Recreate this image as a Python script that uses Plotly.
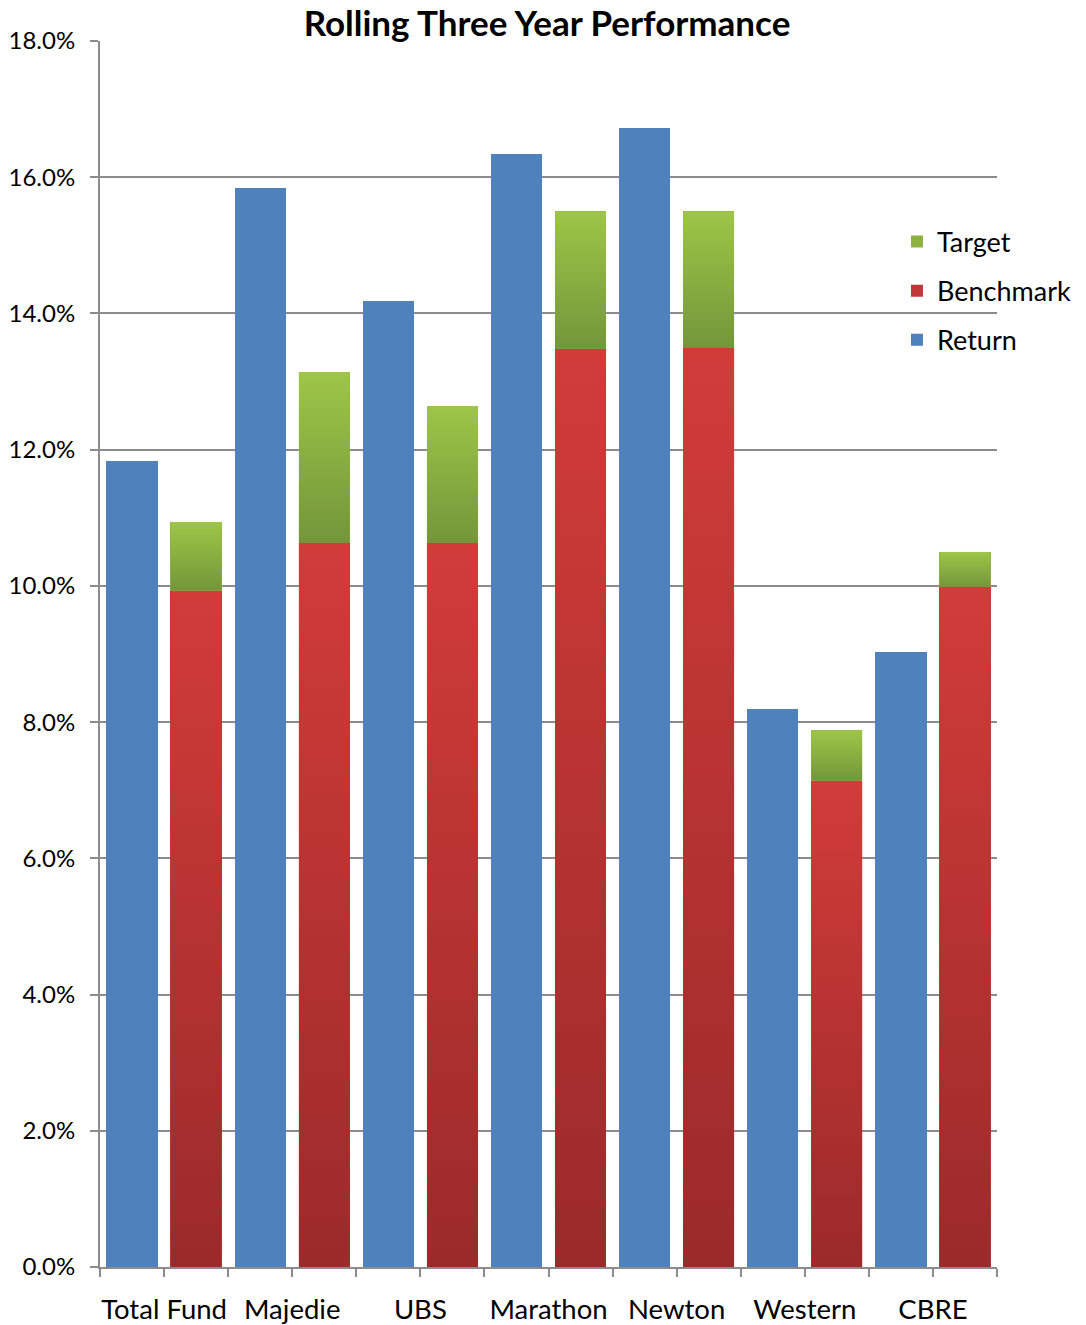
import base64
import plotly.graph_objects as go

# ---- data ----
funds = ["Total Fund", "Majedie", "UBS", "Marathon", "Newton", "Western", "CBRE"]
returns = [0.1183, 0.1584, 0.1418, 0.1634, 0.1672, 0.0819, 0.0903]
benchmark = [0.0993, 0.1063, 0.1063, 0.1348, 0.1349, 0.0714, 0.0998]
target_margin = [0.0101, 0.0251, 0.0201, 0.0202, 0.0201, 0.0074, 0.0052]

y_ticks = [0.0, 0.02, 0.04, 0.06, 0.08, 0.10, 0.12, 0.14, 0.16, 0.18]

# ---- styling ----
FONT = "Lato, 'Open Sans', sans-serif"
BLUE = "#4f81bd"
RED = "#c0393a"
GREEN = "#8db243"
GRID = "#8c8c8c"
BAR_W = 0.8

x_ret = [2 * i for i in range(len(funds))]
x_bm = [2 * i + 1 for i in range(len(funds))]


def grad_uri(top, bottom):
    svg = (
        "<svg xmlns='http://www.w3.org/2000/svg' viewBox='0 0 10 100' "
        "preserveAspectRatio='none' width='10' height='100'>"
        "<defs><linearGradient id='g' x1='0' y1='0' x2='0' y2='1'>"
        f"<stop offset='0' stop-color='{top}'/><stop offset='1' stop-color='{bottom}'/>"
        "</linearGradient></defs><rect x='0' y='0' width='10' height='100' fill='url(#g)'/></svg>"
    )
    return "data:image/svg+xml;base64," + base64.b64encode(svg.encode()).decode()


RED_GRAD = grad_uri("#d13c39", "#9b2a2a")
GREEN_GRAD = grad_uri("#9ec647", "#74963a")

fig = go.Figure()
fig.add_trace(go.Bar(name="Return", x=x_ret, y=returns, width=BAR_W,
                     marker=dict(color=BLUE, line=dict(width=0)),
                     legendgroup="r", legendrank=3))
fig.add_trace(go.Bar(name="Benchmark", x=x_bm, y=benchmark, width=BAR_W,
                     marker=dict(color=RED, line=dict(width=0)),
                     legendgroup="b", legendrank=2))
fig.add_trace(go.Bar(name="Target", x=x_bm, y=target_margin, width=BAR_W,
                     marker=dict(color=GREEN, line=dict(width=0)),
                     legendgroup="t", legendrank=1))

images = []
for xb, b, t in zip(x_bm, benchmark, target_margin):
    images.append(dict(source=RED_GRAD, xref="x", yref="y", x=xb - BAR_W / 2, y=b,
                       sizex=BAR_W, sizey=b, xanchor="left", yanchor="top",
                       sizing="stretch", layer="above"))
    images.append(dict(source=GREEN_GRAD, xref="x", yref="y", x=xb - BAR_W / 2, y=b + t,
                       sizex=BAR_W, sizey=t, xanchor="left", yanchor="top",
                       sizing="stretch", layer="above"))

tickvals = [k - 0.5 for k in range(2 * len(funds) + 1)]
ticktext = []
for k in range(2 * len(funds) + 1):
    if k % 2 == 1:
        ticktext.append(funds[k // 2])
    else:
        ticktext.append("")

fig.update_layout(
    width=1086, height=1325,
    barmode="stack",
    images=images,
    paper_bgcolor="white", plot_bgcolor="white",
    margin=dict(l=100, r=89, t=41, b=58, autoexpand=False),
    font=dict(family=FONT, color="#000000", size=24),
    title=dict(text="<b>Rolling Three Year Performance</b>", x=547 / 1086, xanchor="center",
               y=1 - 24 / 1325, yanchor="middle", yref="container",
               font=dict(family=FONT, size=35, color="#000000")),
    legend=dict(x=0.8885, y=0.856, xanchor="left", yanchor="top",
                traceorder="grouped",
                tracegroupgap=11, bgcolor="rgba(0,0,0,0)", itemwidth=30,
                font=dict(family=FONT, size=27, color="#000000")),
    showlegend=True,
    bargap=0,
)

fig.update_xaxes(range=[-0.5, 2 * len(funds) - 0.5], tickmode="array", tickvals=tickvals,
                 ticktext=ticktext, ticks="outside", ticklen=8, tickwidth=1.5, tickcolor=GRID,
                 showline=True, linecolor=GRID, linewidth=2, showgrid=False, zeroline=False,
                 ticklabelstandoff=9, tickfont=dict(size=27.5), automargin=False)
fig.update_yaxes(range=[0, 0.18], tickmode="array", tickvals=y_ticks, tickformat=".1%",
                 ticks="outside", ticklen=8, tickwidth=1.5, tickcolor=GRID,
                 showline=True, linecolor=GRID, linewidth=2, showgrid=True, gridcolor=GRID,
                 gridwidth=1.5, zeroline=False, ticklabelstandoff=10, tickfont=dict(size=24),
                 automargin=False)

fig.write_html("out.html")
